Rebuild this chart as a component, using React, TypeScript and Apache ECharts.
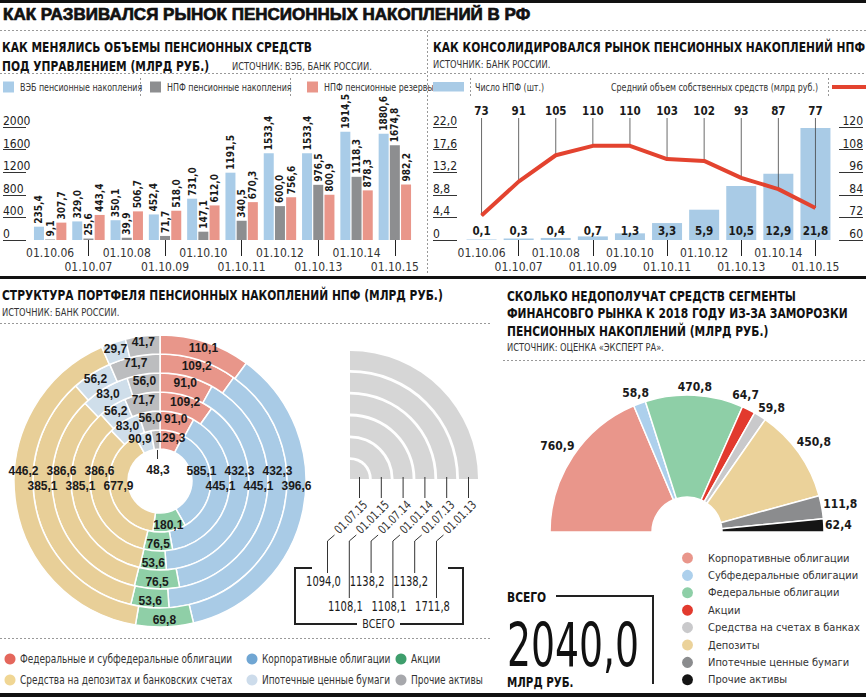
import React, { useEffect, useRef } from 'react';
import * as echarts from 'echarts';

const NARROW = "'Liberation Sans Narrow', 'DejaVu Sans Condensed', 'Arial Narrow', sans-serif";
const SANS = "'Liberation Sans', Arial, Helvetica, sans-serif";

// ---------- Top-left: volumes under management ----------
const dates = ['01.10.06', '01.10.07', '01.10.08', '01.10.09', '01.10.10', '01.10.11', '01.10.12', '01.10.13', '01.10.14', '01.10.15'];
const vebSavings = [235.4, 329.0, 350.1, 452.4, 731.0, 1191.5, 1533.4, 1533.4, 1914.5, 1880.6];
const npfSavings = [9.1, 25.6, 39.9, 71.7, 147.1, 340.5, 600.0, 976.5, 1118.3, 1674.8];
const npfReserves = [307.7, 443.4, 506.7, 518.0, 612.0, 670.3, 756.6, 800.9, 878.3, 982.2];

// ---------- Top-right: consolidation ----------
const avgOwnFunds = [0.1, 0.3, 0.4, 0.7, 1.3, 3.3, 5.9, 10.5, 12.9, 21.8];
const npfCount = [73, 91, 105, 110, 110, 103, 102, 93, 87, 77];

// ---------- Bottom-left: portfolio structure ----------
const assetNames = [
  'Федеральные и субфедеральные облигации',
  'Корпоративные облигации',
  'Акции',
  'Средства на депозитах и банковских счетах',
  'Ипотечные ценные бумаги',
  'Прочие активы',
];
const ringInner1 = [129.3, 585.1, 180.1, 677.9, 90.9, 48.3];
const ringInner2 = [91.0, 445.1, 76.5, 386.6, 83.0, 56.0];
const ringInner3 = [109.2, 432.3, 53.6, 385.1, 56.2, 71.7];
const ringInner4 = [91.0, 445.1, 76.5, 386.6, 83.0, 56.0];
const ringInner5 = [109.2, 432.3, 53.6, 385.1, 56.2, 71.7];
const ringInner6 = [110.1, 396.6, 69.8, 446.2, 29.7, 41.7];
const portfolioDates = ['01.07.15', '01.01.15', '01.07.14', '01.01.14', '01.07.13', '01.01.13'];
const portfolioTotals = [1094.0, 1108.1, 1138.2, 1108.1, 1138.2, 1711.8];

// ---------- Bottom-right: lost funds by segment ----------
const segNames = [
  'Корпоративные облигации',
  'Субфедеральные облигации',
  'Федеральные облигации',
  'Акции',
  'Средства на счетах в банках',
  'Депозиты',
  'Ипотечные ценные бумаги',
  'Прочие активы',
];
const segValues = [760.9, 58.8, 470.8, 64.7, 59.8, 450.8, 111.8, 62.4];
const segTotal = 2040.0;

// ---------- styling ----------
const barColors = ['#a9cce8', '#8d8e90', '#e9968a'];
const ringColors = ['#e8968a', '#a9cbe6', '#8fcfa7', '#e8cf98', '#cfdeea', '#bcbdbf'];
const ringLegendColors = ['#e4675c', '#70a6d3', '#3e9e6c', '#f0d694', '#cddceb', '#a7a8ac'];
const segColors = ['#e9968b', '#add0ec', '#8ecfa7', '#e23a2e', '#c9c9cb', '#ebd29a', '#8b8c8e', '#151515'];
const segLabelAngleShift = [0, 0, 0, -3.5, 2, 0, 0, 0];

const fmt = (v: number) => v.toFixed(1).replace('.', ',');

const CX = 160, CY = 481, R0 = 32, RW = 19;
const HX = 687, HY = 532, HR0 = 35, HR = 137;
const QX = 350, QY = 479, QW = 21.8;

function T(text: string, x: number, y: number, o: any = {}) {
  const align = o.align || 'left';
  const va = o.va || 'middle';
  return {
    type: 'text', x, y, silent: true, rotation: o.rot || 0, scaleX: o.sx || 1,
    style: {
      text, fill: o.fill || '#1a1a1a', fontSize: o.size || 12, fontFamily: o.family || NARROW,
      fontWeight: o.weight || 'normal', align, verticalAlign: va, textAlign: align, textVerticalAlign: va,
      ...(o.style || {}),
    },
  };
}
function L(x1: number, y1: number, x2: number, y2: number, o: any = {}) {
  const style: any = { stroke: o.c || '#222', lineWidth: o.w || 1 };
  if (o.dash) style.lineDash = o.dash;
  return { type: 'line', silent: true, shape: { x1, y1, x2, y2 }, style };
}
function PL(points: number[][], o: any = {}) {
  return { type: 'polyline', silent: true, shape: { points }, style: { stroke: o.c || '#222', lineWidth: o.w || 1, fill: null } };
}
function R(x: number, y: number, w: number, h: number, fill: string) {
  return { type: 'rect', silent: true, shape: { x, y, width: w, height: h }, style: { fill } };
}
const HEAD = (text: string, x: number, y: number) => T(text, x, y, { size: 14.5, weight: 'bold', fill: '#111', sx: 0.82 });
const SRC = (text: string, x: number, y: number) => T(text, x, y, { size: 11, fill: '#333', sx: 0.84 });

function buildOption(): any {
  const rings = [ringInner1, ringInner2, ringInner3, ringInner4, ringInner5, ringInner6];

  const barLabel = {
    show: true, position: 'top', rotate: 90, align: 'left', verticalAlign: 'middle', distance: 3,
    fontFamily: NARROW, fontSize: 10, fontWeight: 'bold', color: '#1a1a1a',
    formatter: (p: any) => fmt(p.value),
  };

  const xCat = (gridIndex: number) => ({
    type: 'category', gridIndex, data: dates,
    axisLine: { show: false },
    axisTick: { show: true, alignWithLabel: true, length: 16, interval: (i: number) => i % 2 === 1, lineStyle: { color: '#222' } },
    axisLabel: {
      interval: 0, margin: 6, fontFamily: NARROW, fontSize: 12, color: '#333', lineHeight: 14,
      formatter: (v: string, i: number) => (i % 2 === 1 ? '\n' + v : v),
    },
  });

  const yLab = { fontFamily: NARROW, fontSize: 12, color: '#222', verticalAlign: 'bottom' };

  const ringLayout = (ring: number, p: any) => {
    const mid = R0 + ring * RW + RW / 2;
    if (p.dataIndex === 1) {
      return { x: CX + mid, y: ring % 2 === 0 ? CY - 10 : CY + 5, align: 'center', verticalAlign: 'middle' };
    }
    if (p.dataIndex === 3) {
      return { x: CX - mid, y: ring % 2 === 1 ? CY - 10 : CY + 5, align: 'center', verticalAlign: 'middle' };
    }
    if (ring === 0 && p.dataIndex === 5) {
      return { x: CX - 2, y: CY - 11, align: 'center', verticalAlign: 'middle' };
    }
    if (ring === 0 && p.dataIndex === 4) {
      return { dx: -5 };
    }
    return {};
  };

  const segCum: number[] = [];
  segValues.reduce((acc, v) => { segCum.push(acc); return acc + v; }, 0);
  const halfLayout = (p: any) => {
    const i = p.dataIndex;
    const frac = (segCum[i] + segValues[i] / 2) / segTotal;
    const th = ((-90 + 180 * frac + segLabelAngleShift[i]) * Math.PI) / 180;
    const s = Math.sin(th), c = Math.cos(th);
    const w = p.labelRect ? p.labelRect.width : 28, h = p.labelRect ? p.labelRect.height : 14;
    const d = HR + 1 + Math.abs(s) * w / 2 + Math.abs(c) * h / 2;
    return { x: HX + s * d, y: HY - c * d, align: 'center', verticalAlign: 'middle' };
  };

  const ringSeries = rings.map((vals, i) => ({
    type: 'pie', silent: true, center: [CX, CY], radius: [R0 + i * RW, R0 + (i + 1) * RW],
    startAngle: 90, clockwise: true, avoidLabelOverlap: false,
    itemStyle: { borderColor: '#fff', borderWidth: 1.5 },
    data: vals.map((v, j) => ({ name: assetNames[j], value: v, itemStyle: { color: ringColors[j] } })),
    label: {
      show: true, position: 'inside', fontFamily: SANS, fontSize: 12, fontWeight: 'bold', color: '#1a1a1a',
      formatter: (p: any) => fmt(p.value),
    },
    labelLine: { show: false },
    labelLayout: (p: any) => ringLayout(i, p),
    emphasis: { disabled: true },
  }));

  // ---------- graphics ----------
  const g: any[] = [];
  g.push(R(0, 0, 866, 3, '#111'));
  g.push(T('КАК РАЗВИВАЛСЯ РЫНОК ПЕНСИОННЫХ НАКОПЛЕНИЙ В РФ', 3, 14, {
    size: 17, family: SANS, weight: 'bold', fill: '#111', style: { stroke: '#111', lineWidth: 0.7 },
  }));
  g.push(L(0, 30.5, 866, 30.5, { c: '#999', dash: [2, 2] }));

  // top-left titles + legend row
  g.push(HEAD('КАК МЕНЯЛИСЬ ОБЪЕМЫ ПЕНСИОННЫХ СРЕДСТВ', 2, 47));
  g.push(HEAD('ПОД УПРАВЛЕНИЕМ (МЛРД РУБ.)', 2, 66));
  g.push(SRC('ИСТОЧНИК: ВЭБ, БАНК РОССИИ.', 232, 66));
  g.push(L(0, 73.5, 426, 73.5, { c: '#999', dash: [2, 2] }));
  const tlLegend = ['ВЭБ пенсионные накопления', 'НПФ пенсионные накопления', 'НПФ пенсионные резервы'];
  const tlLegX = [3, 150, 307];
  tlLegend.forEach((n, k) => {
    g.push(R(tlLegX[k], 81.5, 11, 11, barColors[k]));
    g.push(T(n, tlLegX[k] + 17, 87, { size: 11, fill: '#333', sx: 0.8 }));
  });
  g.push(L(140.5, 78, 140.5, 96, { c: '#999', dash: [2, 2] }));
  g.push(L(290.5, 78, 290.5, 96, { c: '#999', dash: [2, 2] }));
  g.push(L(427.5, 31, 427.5, 275, { c: '#999', dash: [2, 2] }));

  // top-right titles + legend row
  g.push(HEAD('КАК КОНСОЛИДИРОВАЛСЯ РЫНОК ПЕНСИОННЫХ НАКОПЛЕНИЙ НПФ', 433, 47));
  g.push(SRC('ИСТОЧНИК: БАНК РОССИИ.', 433, 64));
  g.push(L(430, 73.5, 866, 73.5, { c: '#999', dash: [2, 2] }));
  g.push(R(433, 82, 31, 9.5, '#a9cbe6'));
  g.push(T('Число НПФ (шт.)', 475, 87, { size: 11, fill: '#333', sx: 0.8 }));
  g.push(T('Средний объем собственных средств (млрд руб.)', 818, 87, { size: 11, fill: '#333', sx: 0.8, align: 'right' }));
  g.push(R(832, 85, 34, 4, '#e3432f'));
  g.push(L(470.5, 78, 470.5, 96, { c: '#999', dash: [2, 2] }));
  g.push(L(828.5, 78, 828.5, 96, { c: '#999', dash: [2, 2] }));

  g.push(R(0, 276, 866, 3, '#111'));

  // bottom-left titles
  g.push(HEAD('СТРУКТУРА ПОРТФЕЛЯ ПЕНСИОННЫХ НАКОПЛЕНИЙ НПФ (МЛРД РУБ.)', 2, 295));
  g.push(SRC('ИСТОЧНИК: БАНК РОССИИ.', 2, 312));
  g.push(L(0, 323.5, 490, 323.5, { c: '#999', dash: [2, 2] }));
  g.push(L(0, 638.5, 490, 638.5, { c: '#999', dash: [2, 2] }));

  // bottom-left key (circles + names)
  const blPos = [[10, 659], [252, 659], [401, 659], [10, 680], [252, 680], [401, 680]];
  assetNames.forEach((n, j) => {
    g.push({ type: 'circle', silent: true, shape: { cx: blPos[j][0], cy: blPos[j][1], r: 5.5 }, style: { fill: ringLegendColors[j] } });
    g.push(T(n, blPos[j][0] + 10, blPos[j][1], { size: 12.5, fill: '#333', sx: 0.8 }));
  });

  // 48,3 leader
  g.push(L(157.5, 449, 157.5, 459, { c: '#333', w: 1 }));

  // quarter-ring key
  for (let k = 0; k < 6; k++) {
    g.push({
      type: 'sector', silent: true,
      shape: { cx: QX, cy: QY, r0: k * QW, r: k * QW + 19, startAngle: -Math.PI / 2, endAngle: 0, clockwise: true },
      style: { fill: '#d6d6d6' },
    });
  }
  for (let k = 0; k < 6; k++) {
    const tx = QX + k * QW + 9.5;
    g.push(L(tx, QY - 2, tx, 498, { c: '#333' }));
    const ax = tx + 6, ay = 503;
    g.push(T(portfolioDates[k], ax, ay, { size: 12, align: 'right', rot: Math.PI / 4, fill: '#333', sx: 0.85 }));
    const vx = tx - 32;
    const yEnd = k % 2 === 0 ? 573 : 598;
    g.push(PL([[tx - 25, 535], [vx, 541], [vx, yEnd]], { c: '#333' }));
    g.push(T(fmt(portfolioTotals[k]), vx - 4, k % 2 === 0 ? 582 : 607, { size: 13.5, align: 'center', sx: 0.82 }));
  }
  g.push(PL([[312, 568], [295, 568], [295, 624], [357, 624]], { c: '#222', w: 2 }));
  g.push(PL([[400, 624], [463, 624], [463, 568], [448, 568]], { c: '#222', w: 2 }));
  g.push(T('ВСЕГО', 378.5, 624, { size: 12.5, align: 'center', fill: '#222', sx: 0.85 }));

  // bottom-right titles
  g.push(HEAD('СКОЛЬКО НЕДОПОЛУЧАТ СРЕДСТВ СЕГМЕНТЫ', 507, 296));
  g.push(HEAD('ФИНАНСОВГО РЫНКА К 2018 ГОДУ ИЗ-ЗА ЗАМОРОЗКИ', 507, 313));
  g.push(HEAD('ПЕНСИОННЫХ НАКОПЛЕНИЙ (МЛРД РУБ.)', 507, 331));
  g.push(SRC('ИСТОЧНИК: ОЦЕНКА «ЭКСПЕРТ РА».', 507, 347));
  g.push(L(503, 360.5, 866, 360.5, { c: '#999', dash: [2, 2] }));

  g.push(T('ВСЕГО', 507, 597, { size: 14.5, weight: 'bold', fill: '#111', sx: 0.82 }));
  g.push(PL([[556, 596], [653, 596], [653, 684]], { c: '#222', w: 2 }));
  g.push(T(fmt(segTotal), 507, 645, { size: 60, fill: '#111', sx: 0.70 }));
  g.push(T('МЛРД РУБ.', 507, 682, { size: 14, weight: 'bold', fill: '#111', sx: 0.82 }));

  g.push(R(0, 693, 866, 4, '#111'));

  // ---------- legends (bottom-right key) ----------
  const legends: any[] = segNames.map((n, j) => ({
    data: [{ name: n, itemStyle: { color: segColors[j] } }],
    left: 680, top: 550.5 + j * 17.4, padding: 0, selectedMode: false, icon: 'circle',
    itemWidth: 13, itemHeight: 13,
    textStyle: { fontFamily: NARROW, fontSize: 11, color: '#333', lineHeight: 13, padding: [0, 0, 0, 9] },
  }));

  return {
    animation: false,
    backgroundColor: '#fff',
    grid: [
      { left: 30, width: 384, top: 127, height: 113 },
      { left: 463, width: 373, top: 127, height: 113 },
    ],
    xAxis: [xCat(0), xCat(1)],
    yAxis: [
      {
        type: 'value', gridIndex: 0, min: 0, max: 2000, interval: 400, offset: 5,
        axisLine: { show: false }, splitLine: { show: false },
        axisTick: { show: true, length: 23, lineStyle: { color: '#333' } },
        axisLabel: { ...yLab, align: 'left', margin: 23, formatter: (v: number) => String(v) },
      },
      {
        type: 'value', gridIndex: 1, min: 0, max: 22, interval: 4.4, offset: 6,
        axisLine: { show: false }, splitLine: { show: false },
        axisTick: { show: true, length: 24, lineStyle: { color: '#333' } },
        axisLabel: { ...yLab, align: 'left', margin: 24, formatter: (v: number) => (v === 0 ? '0' : fmt(v)) },
      },
      {
        type: 'value', gridIndex: 1, position: 'right', min: 60, max: 120, interval: 12, offset: 5,
        axisLine: { show: false }, splitLine: { show: false },
        axisTick: { show: true, length: 24, lineStyle: { color: '#333' } },
        axisLabel: { ...yLab, align: 'right', margin: 24, formatter: (v: number) => String(v) },
      },
    ],
    legend: legends,
    graphic: { elements: g },
    series: [
      { type: 'bar', name: 'ВЭБ пенсионные накопления', xAxisIndex: 0, yAxisIndex: 0, data: vebSavings, barWidth: 10, barGap: '12%', itemStyle: { color: barColors[0] }, label: barLabel, silent: true },
      { type: 'bar', name: 'НПФ пенсионные накопления', xAxisIndex: 0, yAxisIndex: 0, data: npfSavings, barWidth: 10, barGap: '12%', itemStyle: { color: barColors[1] }, label: barLabel, silent: true },
      { type: 'bar', name: 'НПФ пенсионные резервы', xAxisIndex: 0, yAxisIndex: 0, data: npfReserves, barWidth: 10, barGap: '12%', itemStyle: { color: barColors[2] }, label: barLabel, silent: true },
      {
        type: 'bar', name: 'Число НПФ (шт.)', xAxisIndex: 1, yAxisIndex: 1, data: avgOwnFunds, barWidth: 30,
        itemStyle: { color: '#a9cbe6' }, silent: true,
        label: { show: true, position: 'insideBottom', distance: 3, fontFamily: NARROW, fontSize: 11.5, fontWeight: 'bold', color: '#1a1a1a', formatter: (p: any) => fmt(p.value) },
      },
      {
        type: 'custom', xAxisIndex: 1, yAxisIndex: 2, silent: true, z: 3,
        data: npfCount.map((v, i) => [i, v]),
        renderItem: (params: any, api: any) => {
          const p = api.coord([api.value(0), api.value(1)]);
          const top = params.coordSys.y - 9;
          return {
            type: 'group',
            children: [
              { type: 'line', shape: { x1: p[0], y1: top, x2: p[0], y2: p[1] }, style: { stroke: '#444', lineWidth: 0.8 } },
              {
                type: 'text', x: p[0], y: top - 7,
                style: { text: String(api.value(1)), fill: '#1a1a1a', fontSize: 11.5, fontFamily: NARROW, fontWeight: 'bold', align: 'center', verticalAlign: 'middle', textAlign: 'center', textVerticalAlign: 'middle' },
              },
            ],
          };
        },
      },
      {
        type: 'line', name: 'Средний объем собственных средств (млрд руб.)', xAxisIndex: 1, yAxisIndex: 2,
        data: npfCount, symbol: 'none', z: 5, silent: true,
        lineStyle: { color: '#e3432f', width: 4 }, itemStyle: { color: '#e3432f' },
      },
      ...ringSeries,
      {
        type: 'pie', silent: true, center: [HX, HY], radius: [HR0, HR], startAngle: 180, endAngle: 360, clockwise: true,
        avoidLabelOverlap: false,
        itemStyle: { borderColor: '#fff', borderWidth: 1.5 },
        data: segValues.map((v, j) => ({ name: segNames[j], value: v, itemStyle: { color: segColors[j] } })),
        label: { show: true, position: 'outside', fontFamily: NARROW, fontSize: 12, fontWeight: 'bold', color: '#1a1a1a', formatter: (p: any) => fmt(p.value) },
        labelLine: { show: false },
        labelLayout: halfLayout,
        emphasis: { disabled: true },
      },
    ],
  };
}

export default function App() {
  const ref = useRef<HTMLDivElement>(null);
  useEffect(() => {
    if (!ref.current) return;
    const chart = echarts.init(ref.current, null, { renderer: 'svg', width: 866, height: 697 });
    chart.setOption(buildOption());
    return () => chart.dispose();
  }, []);
  return <div ref={ref} style={{ position: 'absolute', left: 0, top: 0, width: 866, height: 697, background: '#fff' }} />;
}
